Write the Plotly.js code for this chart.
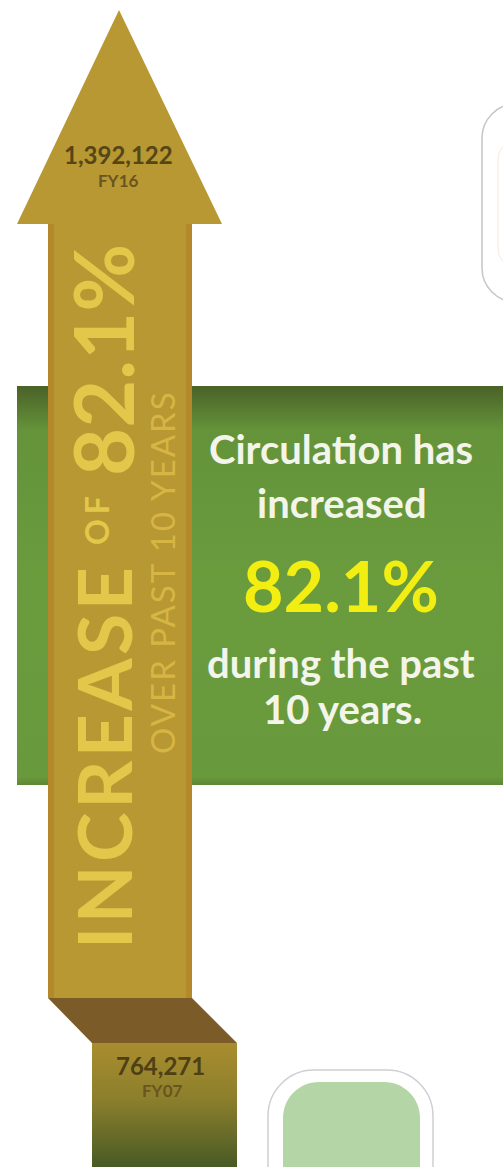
<!DOCTYPE html>
<html>
<head>
<meta charset="utf-8">
<script src="https://cdn.plot.ly/plotly-3.0.1.min.js"></script>
<style>
  html, body { margin: 0; padding: 0; background: #ffffff; }
  #chart { width: 503px; height: 1167px; }
</style>
</head>
<body>
<div id="chart"></div>
<script>
// ---- data ----
const fiscalYears = ['FY07', 'FY16'];
const circulation = [764271, 1392122];
const increasePct = [82.1];
const periodYears = [10];

// ---- helpers ----
const W = 503, H = 1167;
const fmt = v => v.toLocaleString('en-US');
const pctText = increasePct[0].toFixed(1) + '%';
const FONT = 'Lato, "Open Sans", sans-serif';

function rr(x0, y0, x1, y1, r) {
  const k = 0.5523 * r;
  return `M${x0 + r},${y0} L${x1 - r},${y0} C${x1 - r + k},${y0} ${x1},${y0 + r - k} ${x1},${y0 + r} ` +
    `L${x1},${y1 - r} C${x1},${y1 - r + k} ${x1 - r + k},${y1} ${x1 - r},${y1} ` +
    `L${x0 + r},${y1} C${x0 + r - k},${y1} ${x0},${y1 - r + k} ${x0},${y1 - r} ` +
    `L${x0},${y0 + r} C${x0},${y0 + r - k} ${x0 + r - k},${y0} ${x0 + r},${y0} Z`;
}

// ---- traces (gradient filled panels) ----
const greenPanel = {
  type: 'scatter', mode: 'lines',
  x: [17, 510, 510, 17, 17], y: [386, 386, 785, 785, 386],
  fill: 'toself', line: { width: 0, color: 'rgba(0,0,0,0)' },
  fillgradient: {
    type: 'vertical', start: 386, stop: 785,
    colorscale: [[0, '#4a6127'], [0.11, '#64933a'], [0.5, '#6a9c3e'], [0.98, '#68993c'], [1, '#5d8735']]
  },
  hoverinfo: 'skip'
};
const baseBlock = {
  type: 'scatter', mode: 'lines',
  x: [92, 237, 237, 92, 92], y: [1043, 1043, 1170, 1170, 1043],
  fill: 'toself', line: { width: 0, color: 'rgba(0,0,0,0)' },
  fillgradient: {
    type: 'vertical', start: 1043, stop: 1167,
    colorscale: [[0, '#a98d2f'], [0.45, '#8c7f2c'], [1, '#485a25']]
  },
  hoverinfo: 'skip'
};

// ---- shapes ----
const shapes = [
  // top-right rounded frame
  { type: 'path', layer: 'below', path: rr(482, 104, 620, 302, 34), line: { color: '#c8c8c8', width: 1.6 }, fillcolor: 'rgba(0,0,0,0)' },
  { type: 'path', layer: 'below', path: rr(498, 140, 620, 268, 20), line: { color: '#f6e9da', width: 1 }, fillcolor: 'rgba(0,0,0,0)' },
  // bottom rounded frame + green tile
  { type: 'path', layer: 'below', path: rr(268, 1070, 433, 1260, 46), line: { color: '#cfcfd4', width: 1.5 }, fillcolor: 'rgba(0,0,0,0)' },
  { type: 'path', layer: 'below', path: rr(283, 1082, 420, 1260, 36), line: { width: 0 }, fillcolor: '#b4d5a6' },
  // arrow
  { type: 'path', layer: 'above', path: 'M119,10 L222,224 L192,224 L192,998 L48,998 L48,224 L17,224 Z', line: { width: 0 }, fillcolor: '#b79832' },
  { type: 'rect', layer: 'above', x0: 48, x1: 54, y0: 224, y1: 998, line: { width: 0 }, fillcolor: '#b4892c' },
  { type: 'rect', layer: 'above', x0: 186, x1: 192, y0: 224, y1: 998, line: { width: 0 }, fillcolor: '#b4892c' },
  // fold
  { type: 'path', layer: 'above', path: 'M48,998 L192,998 L237,1043 L92,1043 Z', line: { width: 0 }, fillcolor: '#7b5b28' }
];

// ---- annotations ----
const ann = (o) => Object.assign({ xref: 'x', yref: 'y', showarrow: false, xanchor: 'center', yanchor: 'middle' }, o);
const annotations = [
  ann({ x: 118, y: 154, text: '<b>' + fmt(circulation[1]) + '</b>', font: { family: FONT, size: 24, color: '#564516' } }),
  ann({ x: 118, y: 180, text: '<b>' + fiscalYears[1] + '</b>', font: { family: FONT, size: 17, color: '#6a5520' } }),
  ann({ x: 160, y: 1065, text: '<b>' + fmt(circulation[0]) + '</b>', font: { family: FONT, size: 24, color: '#4f3f14' } }),
  ann({ x: 162, y: 1090, text: '<b>' + fiscalYears[0] + '</b>', font: { family: FONT, size: 17, color: '#6a5520' } }),

  ann({ x: 103, y: 757, text: '<b>INCREASE</b>', textangle: -90, font: { family: FONT, size: 75, color: '#e3c74b' } }),
  ann({ x: 96, y: 518, text: '<b>OF</b>', textangle: -90, font: { family: FONT, size: 32, color: '#e3c74b' } }),
  ann({ x: 102, y: 360, text: '<b>' + pctText + '</b>', textangle: -90, font: { family: FONT, size: 83, color: '#e3c74b' } }),
  ann({ x: 162, y: 572, text: 'OVER PAST ' + periodYears[0] + ' YEARS', textangle: -90, font: { family: FONT, size: 33, color: '#d6b545' } }),

  ann({ x: 341, y: 449, text: '<b>Circulation has</b>', font: { family: FONT, size: 40, color: '#f3f5ea' } }),
  ann({ x: 342, y: 503, text: '<b>increased</b>', font: { family: FONT, size: 40, color: '#f3f5ea' } }),
  ann({ x: 341, y: 585, text: '<b>' + pctText + '</b>', font: { family: FONT, size: 70, color: '#f3ee12' } }),
  ann({ x: 341, y: 663, text: '<b>during the past</b>', font: { family: FONT, size: 40, color: '#f3f5ea' } }),
  ann({ x: 342, y: 709, text: '<b>' + periodYears[0] + ' years.</b>', font: { family: FONT, size: 40, color: '#f3f5ea' } })
];

const layout = {
  width: W, height: H,
  margin: { l: 0, r: 0, t: 0, b: 0 },
  paper_bgcolor: '#ffffff', plot_bgcolor: '#ffffff',
  showlegend: false,
  xaxis: { range: [0, W], visible: false, fixedrange: true },
  yaxis: { range: [H, 0], visible: false, fixedrange: true },
  shapes: shapes,
  annotations: annotations
};

// letter spacing for the tracked-out vertical lettering (by annotation index)
const tracking = { 4: 3.5, 5: 5, 7: 2 };

Plotly.newPlot('chart', [greenPanel, baseBlock], layout, { staticPlot: true, displayModeBar: false })
  .then(gd => {
    gd.querySelectorAll('.annotation').forEach((g, i) => {
      if (tracking[i] !== undefined) {
        const t = g.querySelector('text');
        if (t) t.style.letterSpacing = tracking[i] + 'px';
      }
    });
  });
</script>
</body>
</html>
